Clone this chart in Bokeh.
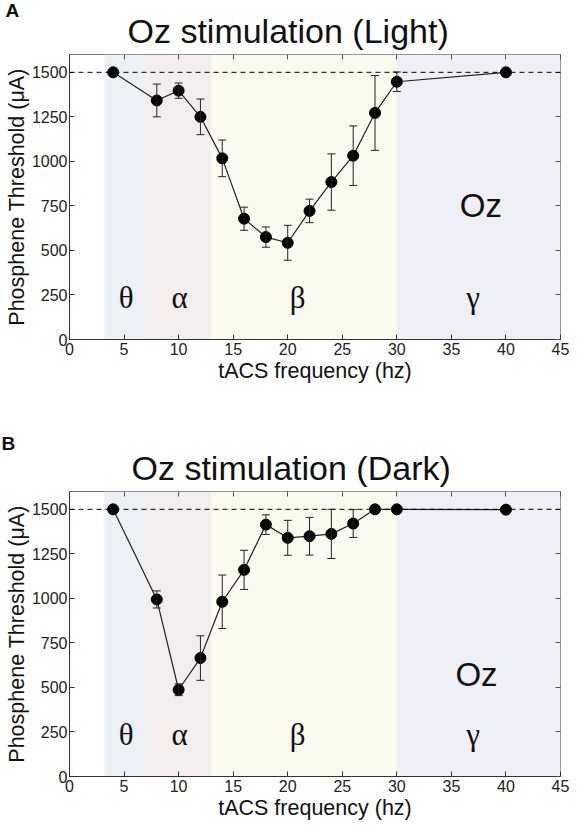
from bokeh.plotting import figure
from bokeh.models import (Range1d, LinearAxis, Span, Whisker, ColumnDataSource,
                          FixedTicker, TeeHead, Label, Title)
from bokeh.layouts import column
from bokeh.embed import file_html
from bokeh.resources import INLINE
from bokeh.core.properties import value

# ---------------- data ----------------
freq = [4, 8, 10, 12, 14, 16, 18, 20, 22, 24, 26, 28, 30, 40]
light_mean = [1500, 1342, 1397, 1250, 1017, 678, 575, 543, 722, 884, 1032, 1272, 1447, 1500]
light_err = [0, 92, 43, 100, 103, 65, 57, 98, 66, 158, 167, 210, 55, 0]
dark_mean = [1500, 994, 487, 665, 981, 1160, 1414, 1340, 1349, 1362, 1420, 1500, 1500, 1498]
dark_err = [0, 48, 33, 125, 150, 110, 55, 98, 106, 138, 78, 0, 0, 0]

band_names = ["θ", "α", "β", "γ"]
band_start = [3.2, 7, 13, 30]
band_end = [7, 13, 30, 45]
band_colors = ["#ebf1f7", "#f4eded", "#fafaef", "#eeeff7"]
band_label_x = [5.2, 10.1, 20.9, 37.0]

x_ticks = [0, 5, 10, 15, 20, 25, 30, 35, 40, 45]
y_ticks = [0, 250, 500, 750, 1000, 1250, 1500]
ceiling = 1500

SANS = "Liberation Sans"
SERIF = "Liberation Serif"


def make_panel(letter, title, mean, err, width, height, bl, br, bt, bb,
               band_y, oz_x, oz_y, title_offset, letter_standoff):
    p = figure(width=width, height=height, output_backend="svg", toolbar_location=None,
               x_range=Range1d(0, 45), y_range=Range1d(0, 1600),
               min_border_left=bl, min_border_right=br, min_border_top=bt,
               min_border_bottom=bb, title_location=None)
    p.xgrid.visible = False
    p.ygrid.visible = False
    p.outline_line_color = "#777777"
    p.outline_line_width = 1
    p.background_fill_color = "white"

    # frequency bands
    bsrc = ColumnDataSource(dict(left=band_start, right=band_end, color=band_colors,
                                 bottom=[0] * 4, top=[1600] * 4))
    p.quad(left="left", right="right", bottom="bottom", top="top", color="color",
           line_color=None, source=bsrc)

    # ceiling line
    p.add_layout(Span(location=ceiling, dimension="width", line_color="black",
                      line_dash="5 4", line_width=1))

    src = ColumnDataSource(dict(x=freq, y=mean))
    esrc = ColumnDataSource(dict(x=[f for f, e in zip(freq, err) if e > 0],
                                 upper=[m + e for m, e in zip(mean, err) if e > 0],
                                 lower=[m - e for m, e in zip(mean, err) if e > 0]))
    p.line("x", "y", source=src, line_color="#222222", line_width=1.2)
    p.add_layout(Whisker(base="x", upper="upper", lower="lower", source=esrc,
                         level="overlay",
                         line_color="#222222", line_width=1,
                         upper_head=TeeHead(size=8, line_color="#222222", line_width=1),
                         lower_head=TeeHead(size=8, line_color="#222222", line_width=1)))
    p.scatter("x", "y", source=src, size=11, fill_color="black", line_color="black")

    # band labels
    lsrc = ColumnDataSource(dict(x=band_label_x, y=[band_y] * 4, t=band_names))
    p.text(x="x", y="y", text="t", source=lsrc, text_font=value(SERIF),
           text_font_size="31px", text_align="center", text_baseline="middle",
           text_color="#111111")
    p.add_layout(Label(x=oz_x, y=oz_y, text="Oz", text_font=SANS,
                       text_font_size="33px", text_align="center",
                       text_baseline="middle", text_color="#111111"))

    # axes
    for ax in (p.xaxis[0], p.yaxis[0]):
        ax.major_tick_in = 5
        ax.major_tick_out = 0
        ax.minor_tick_line_color = None
        ax.axis_line_color = "#333333"
        ax.major_tick_line_color = "#333333"
        ax.major_label_text_font = SANS
        ax.major_label_text_font_size = "16px"
        ax.major_label_text_color = "#222222"
        ax.axis_label_text_font = SANS
        ax.axis_label_text_font_size = "21.5px"
        ax.axis_label_text_font_style = "normal"
        ax.axis_label_text_color = "#111111"
    p.xaxis[0].ticker = FixedTicker(ticks=x_ticks)
    p.yaxis[0].ticker = FixedTicker(ticks=y_ticks)
    p.xaxis[0].axis_label = "tACS frequency (hz)"
    p.yaxis[0].axis_label = "Phosphene Threshold (μA)"
    p.xaxis[0].major_label_standoff = 3
    p.yaxis[0].major_label_standoff = 2
    p.xaxis[0].axis_label_standoff = 1
    p.yaxis[0].axis_label_standoff = 0

    top_ax = LinearAxis(ticker=FixedTicker(ticks=x_ticks))
    right_ax = LinearAxis(ticker=FixedTicker(ticks=y_ticks))
    for ax in (top_ax, right_ax):
        ax.major_tick_in = 5
        ax.major_tick_out = 0
        ax.minor_tick_line_color = None
        ax.axis_line_color = None
        ax.major_tick_line_color = "#555555"
        ax.major_label_text_font_size = "1px"
        ax.major_label_text_color = None
        ax.major_label_standoff = 0
    p.add_layout(top_ax, "above")
    p.add_layout(right_ax, "right")

    # title and panel letter
    p.add_layout(Title(text=title, text_font=SANS, text_font_size="34px",
                       text_font_style="normal", align="left", offset=title_offset,
                       text_color="#111111", standoff=9), "above")
    p.add_layout(Title(text=letter, text_font=SANS, text_font_size="19px",
                       text_font_style="bold", align="left", offset=-bl + 1,
                       text_color="#111111", standoff=letter_standoff), "above")
    return p


pA = make_panel("A", "Oz stimulation (Light)", light_mean, light_err,
                width=570, height=430, bl=65, br=10, bt=54, bb=91,
                band_y=238, oz_x=37.7, oz_y=753, title_offset=58, letter_standoff=-31)
pB = make_panel("B", "Oz stimulation (Dark)", dark_mean, dark_err,
                width=570, height=392, bl=69, br=6, bt=61, bb=45,
                band_y=235, oz_x=37.3, oz_y=575, title_offset=62, letter_standoff=-23)

layout = column(pA, pB, spacing=0)
open("out.html", "w").write(file_html(layout, INLINE))
